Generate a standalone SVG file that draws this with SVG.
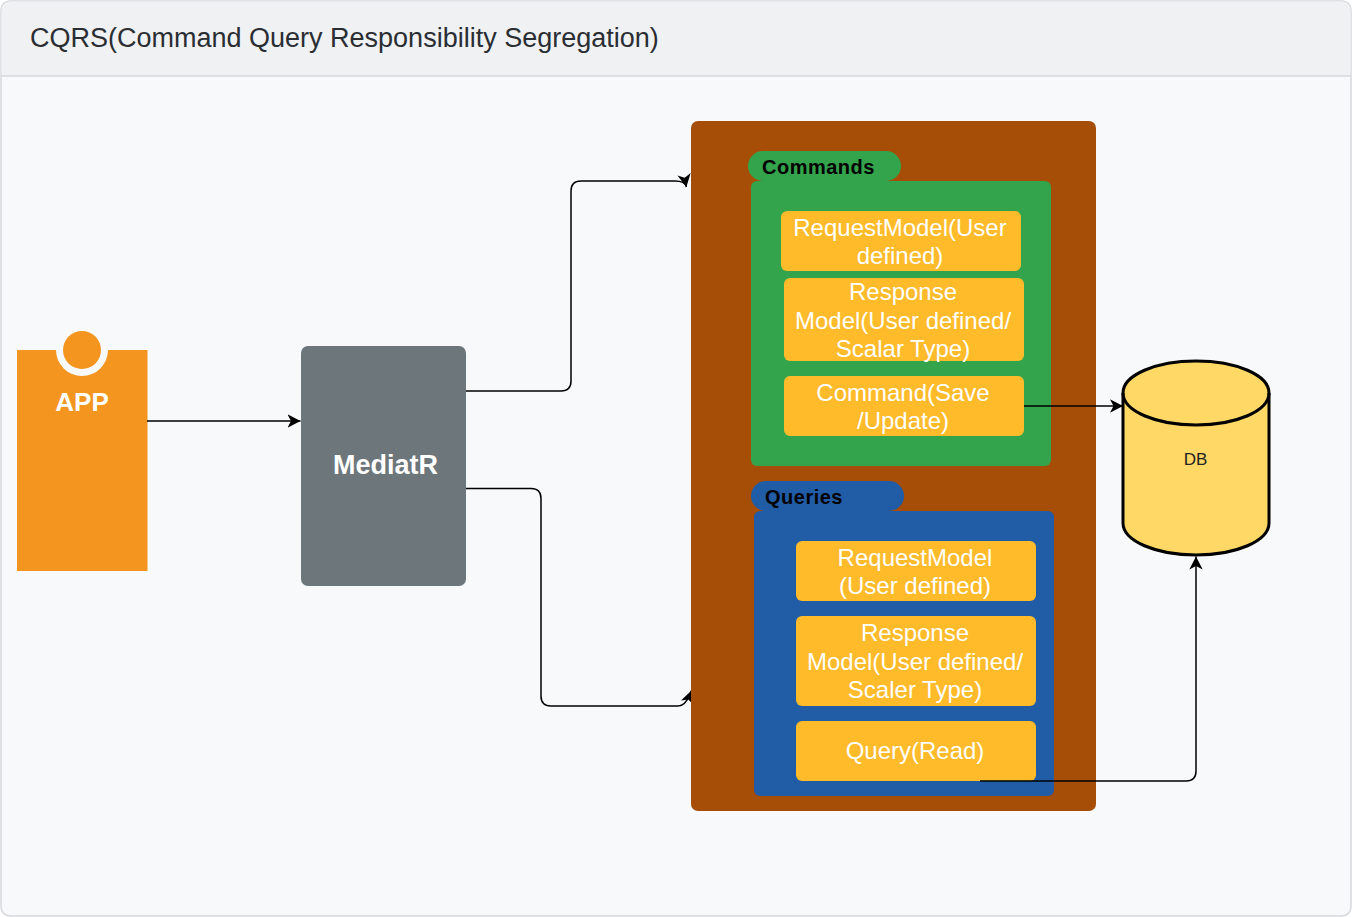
<svg xmlns="http://www.w3.org/2000/svg" width="1352" height="917" viewBox="0 0 1352 917">
<defs>
<marker id="arr" markerUnits="userSpaceOnUse" markerWidth="14" markerHeight="14" refX="13" refY="7" orient="auto"><path d="M0,0.300 L13,7 L0,13.700 L3.500,7 Z" fill="#000"/></marker>
<clipPath id="left-of-container"><rect x="0" y="0" width="691" height="917"/></clipPath>
</defs>
<style>
text{font-family:"Liberation Sans",Arial,sans-serif}
.item{fill:#ffbb2a}
.it{font-size:24px;fill:#fff;text-anchor:middle}
.c{fill:none;stroke:#000;stroke-width:1.5;marker-end:url(#arr)}
.b{font-weight:bold;fill:#fff;text-anchor:middle}
.t{font-size:20px;font-weight:bold;fill:#000;letter-spacing:.5px}
.clipped{clip-path:url(#left-of-container)}
</style>
<g id="frame">
<rect x="1" y="1" width="1350" height="915" rx="9" fill="#f8f9fb" stroke="#d6d8db" stroke-width="1.5"/>
<path d="M1.500,76 V10 A8.500,8.500 0 0 1 10,1.500 H1342 A8.500,8.500 0 0 1 1350.500,10 V76 Z" fill="#f0f1f3"/>
<path d="M1,76 H1351" stroke="#d6d8db" stroke-width="1.500"/>
<text x="30" y="47" font-size="27" fill="#2a2e33">CQRS(Command Query Responsibility Segregation)</text>
</g>
<g id="app">
<path d="M17,350 H56 A26,26 0 0 0 108,350 H147.500 V571 H17 Z" fill="#f3951f"/>
<circle cx="82" cy="350" r="19" fill="#f3951f"/>
<text x="82" y="411" font-size="26" class="b">APP</text>
</g>
<g id="mediatr">
<rect x="301" y="346" width="165" height="240" rx="7" fill="#6c767b"/>
<text x="385.500" y="474" font-size="27" class="b">MediatR</text>
</g>
<g id="container"><rect x="691" y="121" width="405" height="690" rx="7" fill="#a64e08"/></g>
<g id="commands">
<rect x="748" y="151" width="153" height="30" rx="15" fill="#34a44c"/>
<text x="762" y="173.500" class="t">Commands</text>
<rect x="751" y="181" width="300" height="285" rx="6" fill="#34a44c"/>
</g>
<g id="cmd-request">
<rect x="781" y="211" width="240" height="60" rx="6" class="item"/>
<text class="it" x="900" y="236">RequestModel(User</text>
<text class="it" x="900" y="264">defined)</text>
</g>
<g id="cmd-response">
<rect x="784" y="278" width="240" height="83" rx="6" class="item"/>
<text class="it" x="903" y="300">Response</text>
<text class="it" x="903" y="329">Model(User defined/</text>
<text class="it" x="903" y="357">Scalar Type)</text>
</g>
<g id="cmd-command">
<rect x="784" y="376" width="240" height="60" rx="6" class="item"/>
<text class="it" x="903" y="401">Command(Save</text>
<text class="it" x="903" y="429">/Update)</text>
</g>
<g id="queries">
<rect x="751" y="481" width="153" height="30" rx="15" fill="#215ca6"/>
<text x="765" y="503.500" class="t">Queries</text>
<rect x="754" y="511" width="300" height="285" rx="6" fill="#215ca6"/>
</g>
<g id="q-request">
<rect x="796" y="541" width="240" height="60" rx="6" class="item"/>
<text class="it" x="915" y="566">RequestModel</text>
<text class="it" x="915" y="594">(User defined)</text>
</g>
<g id="q-response">
<rect x="796" y="616" width="240" height="90" rx="6" class="item"/>
<text class="it" x="915" y="641">Response</text>
<text class="it" x="915" y="669.500">Model(User defined/</text>
<text class="it" x="915" y="698">Scaler Type)</text>
</g>
<g id="q-query">
<rect x="796" y="721" width="240" height="60" rx="6" class="item"/>
<text class="it" x="915" y="759">Query(Read)</text>
</g>
<g id="db">
<path d="M1123,393 C1123,375 1156,361 1196,361 C1236,361 1269,375 1269,393 V523 C1269,541 1236,555 1196,555 C1156,555 1123,541 1123,523 Z" fill="#ffd866" stroke="#000" stroke-width="3"/>
<path d="M1123,393 C1123,411 1156,425 1196,425 C1236,425 1269,411 1269,393" fill="none" stroke="#000" stroke-width="3"/>
<text x="1195.500" y="464.500" font-size="17" fill="#222" text-anchor="middle">DB</text>
</g>
<g id="connectors">
<path class="c" d="M147,421 H300.500"/>
<path class="c clipped" d="M466,391 H561 Q571,391 571,381 V191 Q571,181 581,181 H675 Q685.300,181 686.400,187"/>
<path class="c clipped" d="M466,488.500 H531 Q541,488.500 541,498.500 V696 Q541,706 551,706 H678 C684,706 688.500,699 691.500,690.500"/>
<path class="c" d="M1024,406 H1123"/>
<path class="c" d="M980,781 H1186 Q1196,781 1196,771 V556.500"/>
</g>
</svg>
